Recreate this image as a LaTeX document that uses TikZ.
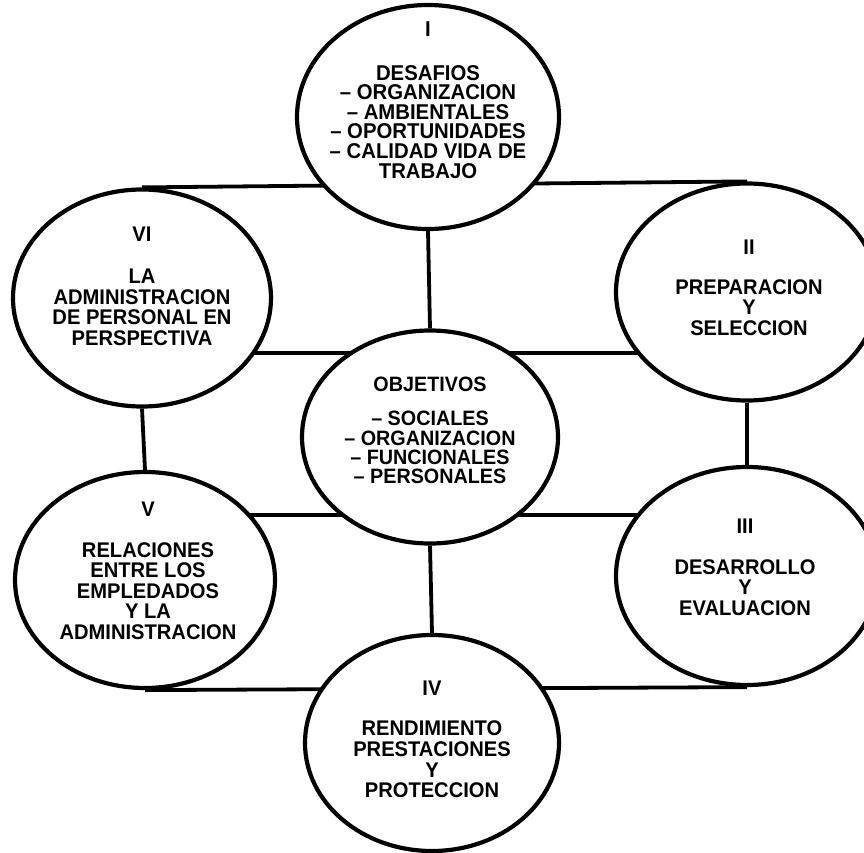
\documentclass[tikz,border=0pt]{standalone}
\usepackage{fontspec}
\newfontfamily\helv[FakeStretch=0.95]{Liberation Sans}
\usetikzlibrary{shapes.geometric,backgrounds}

\begin{document}
\begin{tikzpicture}[x=1pt,y=-1pt,
  ovalo/.style={ellipse,draw=black,line width=4.2pt,fill=white,inner sep=0pt},
  rotulo/.style={align=center,inner sep=0pt,font=\helv\bfseries\fontsize{21.2}{20.6}\selectfont},
  enlace/.style={line width=3.8pt,black}]
  \useasboundingbox (0,0) rectangle (864,853);
  \clip (0,0) rectangle (864,853);
  \node[ovalo,minimum width=262pt,minimum height=224pt] (I) at (428,117) {};
  \node[ovalo,minimum width=258pt,minimum height=217pt] (VI) at (142,298) {};
  \node[ovalo,minimum width=262pt,minimum height=217pt] (II) at (747,292) {};
  \node[ovalo,minimum width=256pt,minimum height=213pt] (obj) at (430,437) {};
  \node[ovalo,minimum width=260pt,minimum height=216pt] (V) at (145,580) {};
  \node[ovalo,minimum width=262pt,minimum height=218pt] (III) at (747,576) {};
  \node[ovalo,minimum width=254pt,minimum height=216pt] (IV) at (432,743) {};
  % textos
  \node[rotulo,font=\helv\bfseries\fontsize{21.4}{19.6}\selectfont] (tI) at ([yshift=17pt]I.center)
    {I\\[24pt]DESAFIOS\\– ORGANIZACION\\– AMBIENTALES\\– OPORTUNIDADES\\– CALIDAD VIDA DE\\TRABAJO};
  \node[rotulo] (tVI) at ([yshift=11.5pt]VI.center)
    {VI\\[21pt]LA\\ADMINISTRACION\\DE PERSONAL EN\\PERSPECTIVA};
  \node[rotulo] (tII) at ([xshift=2pt,yshift=4.5pt]II.center)
    {II\\[19.5pt]PREPARACION\\Y\\SELECCION};
  \node[rotulo,font=\helv\bfseries\fontsize{20.8}{19.4}\selectfont] (tobj) at ([yshift=6.5pt]obj.center)
    {OBJETIVOS\\[15pt]– SOCIALES\\– ORGANIZACION\\– FUNCIONALES\\– PERSONALES};
  \node[rotulo] (tV) at ([xshift=3pt,yshift=9pt]V.center)
    {V\\[19.5pt]RELACIONES\\ENTRE LOS\\EMPLEDADOS\\Y LA\\ADMINISTRACION};
  \node[rotulo] (tIII) at ([xshift=-2pt,yshift=8.5pt]III.center)
    {III\\[20pt]DESARROLLO\\Y\\EVALUACION};
  \node[rotulo] (tIV) at ([yshift=3.5pt]IV.center)
    {IV\\[19.5pt]RENDIMIENTO\\PRESTACIONES\\Y\\PROTECCION};
  % enlaces
  \begin{pgfonlayer}{background}
    \draw[enlace] (VI.north) -- (II.north);
    \draw[enlace] ([yshift=-55pt]VI.center) -- ([yshift=-61pt]II.center);
    \draw[enlace] ([yshift=65pt]V.center) -- ([yshift=61pt]III.center);
    \draw[enlace] (V.south) -- (III.south);
    \draw[enlace] (I.south) -- (obj.north);
    \draw[enlace] (obj.south) -- (IV.north);
    \draw[enlace] (VI.south) -- (V.north);
    \draw[enlace] (II.south) -- (III.north);
  \end{pgfonlayer}
\end{tikzpicture}
\end{document}
